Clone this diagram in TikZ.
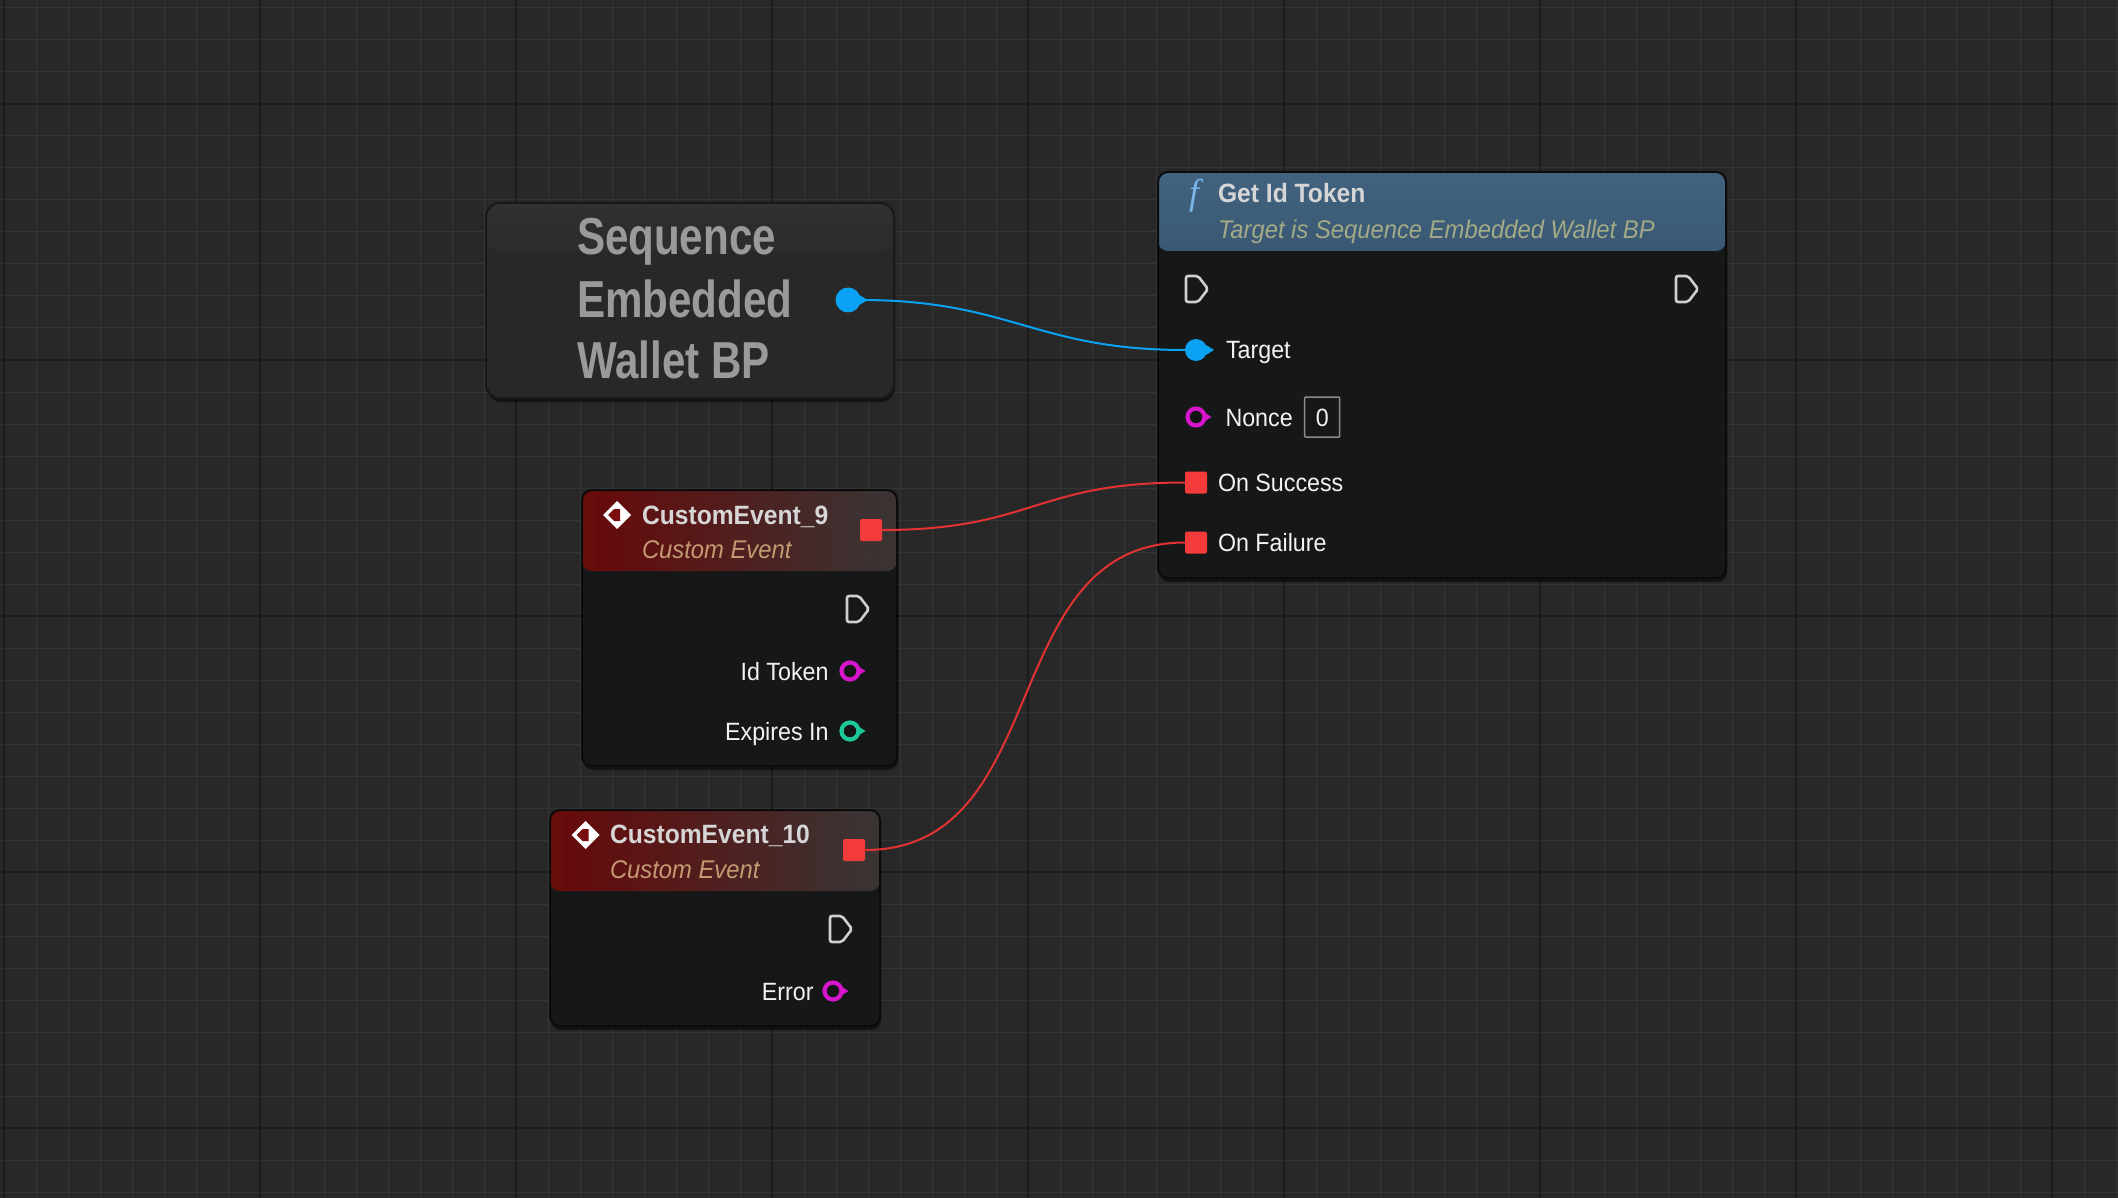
\documentclass[tikz,border=0pt]{standalone}
\usepackage{fontspec}
\setmainfont{Liberation Sans}[FakeStretch=0.93]
\newfontfamily\bignamefont{Liberation Sans}[FakeStretch=0.81]
\newfontfamily\iconfont{Liberation Serif}
\usetikzlibrary{positioning,calc,shadows}

\definecolor{canvas}{HTML}{282828}
\definecolor{gridminor}{HTML}{353535}
\definecolor{gridmajor}{HTML}{1B1B1B}
\definecolor{nodebody}{HTML}{171818}
\definecolor{nodeedge}{HTML}{0B0B0B}
\definecolor{seqfill}{HTML}{2A2A2A}
\definecolor{seqgloss}{HTML}{484848}
\definecolor{seqtext}{HTML}{9A9A9A}
\definecolor{objblue}{HTML}{0AA2F2}
\definecolor{strpink}{HTML}{D616CC}
\definecolor{intteal}{HTML}{1CC79A}
\definecolor{ringfill}{HTML}{141414}
\definecolor{delred}{HTML}{F43B3B}
\definecolor{wirered}{HTML}{E23232}
\definecolor{execgrey}{HTML}{CFCFCF}
\definecolor{titlegrey}{HTML}{D6D6D6}
\definecolor{subolive}{HTML}{A2AA86}
\definecolor{subtan}{HTML}{C49A72}
\definecolor{fblue}{HTML}{78B6EA}
\definecolor{evdark}{HTML}{7A0E0E}
\definecolor{evA}{HTML}{A41E1E}
\definecolor{evB}{HTML}{6C0B0B}
\definecolor{evC}{HTML}{3E3535}
\definecolor{fnA}{HTML}{5C84A6}
\definecolor{fnB}{HTML}{3D5E7B}
\definecolor{fnC}{HTML}{304C64}
\definecolor{fnD}{HTML}{46667F}
\definecolor{boxgrey}{HTML}{8A8A8A}

\pgfdeclarehorizontalshading{evshade}{100bp}{color(0bp)=(evA); color(28bp)=(evB); color(72bp)=(evC); color(100bp)=(evC)}
\pgfdeclareverticalshading{fnshade}{100bp}{color(0bp)=(fnD); color(30bp)=(fnC); color(65bp)=(fnB); color(100bp)=(fnA)}
\pgfdeclareverticalshading{seqshade}{100bp}{color(0bp)=(seqfill); color(70bp)=(seqfill!85!seqgloss); color(100bp)=(seqgloss)}

\begin{document}
\begin{tikzpicture}[x=1pt, y=-1pt, every node/.style={inner sep=0pt, outer sep=0pt},
  minorline/.style={draw=gridminor, line width=1pt},
  majorline/.style={draw=gridmajor, line width=2pt},
  bpnode/.style={draw=nodeedge, line width=2pt, rounded corners=10pt, fill=nodebody, fill opacity=0.93, anchor=north west,
    drop shadow={shadow xshift=1pt, shadow yshift=-4pt, fill=black, opacity=0.5}},
  seqbox/.style={rounded corners=14pt, fill=seqfill, draw=black!90,
    path picture={\shade[shading=seqshade] (path picture bounding box.north west) rectangle ([yshift=-48pt]path picture bounding box.north east);}},
  fnhead/.style={path picture={\shade[shading=fnshade] (path picture bounding box.north west) rectangle ([yshift=-#1]path picture bounding box.north east);}},
  evhead/.style={path picture={\shade[shading=evshade] (path picture bounding box.north west) rectangle ([yshift=-#1]path picture bounding box.north east);}},
  bigname/.style={anchor=base west, text=seqtext, font=\bignamefont\bfseries\fontsize{52}{60}\selectfont},
  nodetitle/.style={anchor=base west, text=titlegrey, font=\bfseries\fontsize{26.5}{30}\selectfont},
  nodesub/.style={anchor=base west, font=\itshape\fontsize{25.6}{28}\selectfont},
  pinlbl/.style={text=white!95!black, text height=18pt, text depth=0pt, font=\fontsize{25}{30}\selectfont},
  objpin/.style={circle, fill=objblue, minimum size=22pt},
  ringpin/.style={circle, draw=#1, line width=4.2pt, fill=ringfill, minimum size=17pt},
  delpin/.style={rectangle, fill=delred, rounded corners=2pt, minimum size=22pt},
  wire/.style={line width=2pt},
  execpin/.pic={\draw[execgrey, line width=2.6pt, rounded corners=2pt, line join=round] (-11,-13) -- (1,-13) -- (11,0) -- (1,13) -- (-11,13) -- cycle;},
  eventicon/.pic={\fill[white] (-14,0) -- (0,-14) -- (14,0) -- (0,14) -- cycle;
    \fill[evdark] (-9,0) -- (-3,-6) -- (3,-6) -- (3,6) -- (-3,6) -- cycle;}]
\useasboundingbox (0,0) rectangle (2118,1198);

% graph canvas
\fill[canvas] (0,0) rectangle (2118,1198);
\foreach \x in {4,36,...,2118} \draw[minorline] (\x,0) -- (\x,1198);
\foreach \y in {8,40,...,1198} \draw[minorline] (0,\y) -- (2118,\y);
\foreach \x in {4,260,...,2118} \draw[majorline] (\x,0) -- (\x,1198);
\foreach \y in {104,360,...,1198} \draw[majorline] (0,\y) -- (2118,\y);

% node bodies
\node[bpnode, seqbox, minimum width=408pt, minimum height=195pt] (seq) at (486,203) {};
\node[bpnode, fnhead=79pt, minimum width=568pt, minimum height=406pt] (getid) at (1158,172) {};
\node[bpnode, evhead=81pt, minimum width=315pt, minimum height=276pt] (ce9) at (582,490) {};
\node[bpnode, evhead=81pt, minimum width=330pt, minimum height=216pt] (ce10) at (550,810) {};

% titles
\node[bigname] (seqA) at (577,255) {Sequence};
\node[bigname] (seqB) at (577,318) {Embedded};
\node[bigname] (seqC) at (577,378) {Wallet BP};
\node[text=fblue, font=\iconfont\itshape\fontsize{36}{36}\selectfont] (fnicon) at (1194,196) {f};
\node[nodetitle] (gettitle) at (1218,203) {Get Id Token};
\node[nodesub, text=subolive] (getsub) at (1218,239) {Target is Sequence Embedded Wallet BP};
\pic at (617,515) {eventicon};
\node[nodetitle] (ce9title) at (642,524) {CustomEvent\_9};
\node[nodesub, text=subtan] (ce9sub) at (642,558) {Custom Event};
\pic at (585.5,835) {eventicon};
\node[nodetitle] (ce10title) at (610,843) {CustomEvent\_10};
\node[nodesub, text=subtan] (ce10sub) at (610,878) {Custom Event};

% pins
\pic at (1197,289) {execpin};
\pic at (1687,289) {execpin};
\pic at (858,609) {execpin};
\pic at (841,929) {execpin};
\node[objpin, minimum size=25pt] (seqout) at (848,300) {};
\node[objpin] (target) at (1196,350) {};
\node[ringpin=strpink] (nonce) at (1196,417) {};
\node[delpin] (onsucc) at (1196,482.5) {};
\node[delpin] (onfail) at (1196,542.5) {};
\node[delpin] (ce9out) at (871,530) {};
\node[ringpin=strpink] (idtoken) at (850,671) {};
\node[ringpin=intteal] (expires) at (850,731) {};
\node[delpin] (ce10out) at (854,850) {};
\node[ringpin=strpink] (errpin) at (833,991) {};

% pin labels
\node[pinlbl, right=19pt of target] (targetlbl) {Target};
\node[pinlbl, right=21pt of nonce] (noncelbl) {Nonce};
\node[pinlbl, draw=boxgrey, line width=1.5pt, rounded corners=1pt, minimum width=35pt, minimum height=40pt, right=12pt of noncelbl] (nonceval) {0};
\node[pinlbl, right=11pt of onsucc] (onsucclbl) {On Success};
\node[pinlbl, right=11pt of onfail] (onfaillbl) {On Failure};
\node[pinlbl, left=13pt of idtoken] (idtokenlbl) {Id Token};
\node[pinlbl, left=13pt of expires] (expireslbl) {Expires In};
\node[pinlbl, left=11pt of errpin] (errlbl) {Error};

% wires
\draw[wire, objblue] (seqout.east) .. controls +(150,0) and +(-150,0) .. (target.west);
\draw[wire, wirered] (ce9out.east) .. controls +(150,0) and +(-150,0) .. (onsucc.west);
\draw[wire, wirered] (ce10out.east) .. controls +(190,0) and +(-190,0) .. (onfail.west);

% pin arrow tips
\foreach \p/\c in {seqout/objblue, target/objblue, nonce/strpink, idtoken/strpink, expires/intteal, errpin/strpink}
  \fill[\c] (\p.east) ++(-1,-5) -- ++(8,5) -- ++(-8,5) -- cycle;
\end{tikzpicture}
\end{document}
